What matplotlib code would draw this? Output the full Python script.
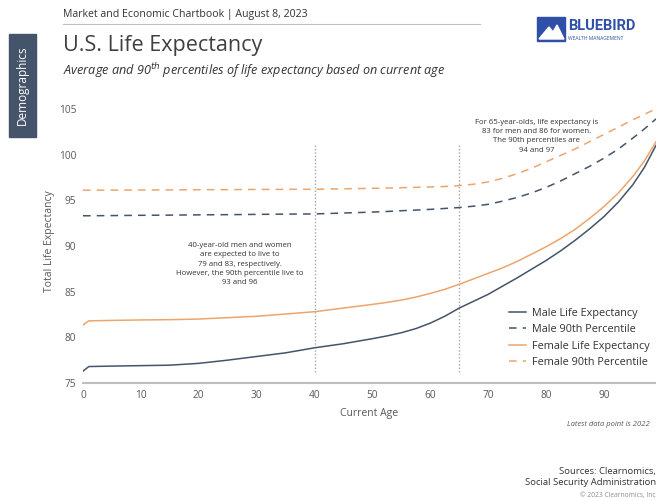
import matplotlib

matplotlib.use("Agg")
import matplotlib.pyplot as plt
from matplotlib.patches import Rectangle, Polygon

plt.rcParams["font.family"] = ["Open Sans", "DejaVu Sans"]

# values
ages = [0, 1, 5, 10, 15, 20, 25, 30, 35, 40, 45, 50, 52.5, 55, 57.5, 60, 62.5, 65, 67.5,
        70, 72.5, 75, 77.5, 80, 82.5, 85, 87.5, 90, 92.5, 95, 97, 99]
male_le = [76.3, 76.8, 76.85, 76.9, 76.95, 77.15, 77.5, 77.9, 78.3, 78.85, 79.3, 79.85,
           80.15, 80.5, 80.95, 81.55, 82.3, 83.2, 83.95, 84.7, 85.6, 86.5, 87.45, 88.4,
           89.45, 90.6, 91.85, 93.2, 94.8, 96.7, 98.6, 101.0]
female_le = [81.35, 81.8, 81.85, 81.9, 81.93, 82.0, 82.15, 82.3, 82.55, 82.8, 83.2, 83.6,
             83.82, 84.07, 84.4, 84.8, 85.25, 85.8, 86.4, 87.0, 87.6, 88.3, 89.1, 89.9,
             90.8, 91.8, 93.0, 94.3, 95.8, 97.6, 99.3, 101.4]
male_p90 = [93.3, 93.3, 93.32, 93.35, 93.37, 93.4, 93.42, 93.45, 93.48, 93.5, 93.6, 93.7,
            93.77, 93.85, 93.92, 94.0, 94.1, 94.2, 94.35, 94.55, 94.9, 95.3, 95.8, 96.4,
            97.1, 97.9, 98.7, 99.6, 100.6, 101.8, 102.8, 103.9]
female_p90 = [96.1, 96.1, 96.11, 96.12, 96.13, 96.15, 96.16, 96.18, 96.19, 96.2, 96.25, 96.3,
              96.33, 96.37, 96.41, 96.45, 96.5, 96.6, 96.75, 97.0, 97.4, 97.9, 98.5, 99.2,
              99.9, 100.6, 101.4, 102.2, 103.0, 103.8, 104.4, 105.0]
y_ticks = [75, 80, 85, 90, 95, 100, 105]
x_ticks = [0, 10, 20, 30, 40, 50, 60, 70, 80, 90]
marker_ages = [40, 65]

MALE = "#44546a"
FEMALE = "#eda56b"
GRAY = "#595959"

fig = plt.figure(figsize=(6.56, 5.01), dpi=100)
ax = fig.add_axes([83 / 656, (501 - 383) / 501, 1 - 83 / 656, (383 - 99.7) / 501])

ax.plot(ages, male_le, color=MALE, lw=1.1, label="Male Life Expectancy")
ax.plot(ages, male_p90, color=MALE, lw=1.1, ls=(0, (5, 4)), label="Male 90th Percentile")
ax.plot(ages, female_le, color=FEMALE, lw=1.1, label="Female Life Expectancy")
ax.plot(ages, female_p90, color=FEMALE, lw=1.1, ls=(0, (5, 4)), label="Female 90th Percentile")

for a in marker_ages:
    ax.plot([a, a], [76.2, 101.3], color="#a6a6a6", lw=1.0, ls=(0, (1, 1.5)), zorder=0)

ax.set_xlim(0, 99)
ax.set_ylim(75, 106)
ax.set_xticks(x_ticks)
ax.set_yticks(y_ticks)
ax.tick_params(length=0, labelsize=7.3, colors=GRAY, pad=5)
for s in ["top", "right", "left"]:
    ax.spines[s].set_visible(False)
ax.spines["bottom"].set_color("#bfbfbf")
ax.spines["bottom"].set_linewidth(1.5)
ax.set_xlabel("Current Age", fontsize=7.5, color=GRAY, labelpad=5)
ax.set_ylabel("Total Life Expectancy", fontsize=7.5, color=GRAY, labelpad=3)

ax.text(27.1, 88.0, "40-year-old men and women\nare expected to live to\n79 and 83, respectively.\n"
        "However, the 90th percentile live to\n93 and 96",
        fontsize=5.6, color="#333333", ha="center", va="center", linespacing=1.45)
ax.text(78.4, 102.0, "For 65-year-olds, life expectancy is\n83 for men and 86 for women.\n"
        "The 90th percentiles are\n94 and 97",
        fontsize=5.6, color="#333333", ha="center", va="center", linespacing=1.45)

leg = ax.legend(loc="lower right", bbox_to_anchor=(1.0, 0.03), frameon=False, fontsize=7.8,
                handlelength=1.6, handletextpad=0.5, labelspacing=0.5, borderaxespad=0.2)
for t in leg.get_texts():
    t.set_color("#333333")

# header
fig.text(63 / 656, 1 - 14 / 501, "Market and Economic Chartbook | August 8, 2023",
         fontsize=7.6, color="#333333", va="center")
fig.add_artist(plt.Line2D([63 / 656, 480 / 656], [1 - 24 / 501, 1 - 24 / 501],
                          color="#bfbfbf", lw=0.8))
fig.text(63 / 656, 1 - 46 / 501, "U.S. Life Expectancy", fontsize=15.5, color="#404040",
         va="center")
fig.text(63 / 656, 1 - 71 / 501,
         r"Average and 90$^{th}$ percentiles of life expectancy based on current age",
         fontsize=9.1, color="#333333", va="center", style="italic")

# side tab
fig.add_artist(Rectangle((9 / 656, 1 - 137 / 501), 27 / 656, 103 / 501,
                         transform=fig.transFigure, color="#44546a"))
fig.text(22.5 / 656, 1 - 85.5 / 501, "Demographics", rotation=90, color="white",
         fontsize=8.5, ha="center", va="center")

# logo
fig.add_artist(Rectangle((537 / 656, 1 - 41 / 501), 28 / 656, 24 / 501,
                         transform=fig.transFigure, color="#2f4fa8"))
fig.add_artist(Polygon([(539 / 656, 1 - 39 / 501), (549 / 656, 1 - 27 / 501),
                        (553 / 656, 1 - 32 / 501), (557 / 656, 1 - 25 / 501),
                        (564 / 656, 1 - 39 / 501)],
                       transform=fig.transFigure, color="white"))
fig.text(568 / 656, 1 - 26 / 501, "BLUEBIRD", fontsize=10.5, fontweight="bold",
         color="#2f4fa8", va="center", family=["Roboto", "DejaVu Sans"])
fig.text(568.5 / 656, 1 - 38 / 501, "WEALTH MANAGEMENT", fontsize=3.6, color="#2f4fa8",
         va="center")

# footer
fig.text(650 / 656, 1 - 424 / 501, "Latest data point is 2022", fontsize=5.5,
         style="italic", color=GRAY, ha="right", va="center")
fig.text(656 / 656, 1 - 477 / 501, "Sources: Clearnomics,\nSocial Security Administration",
         fontsize=6.8, color="#333333", ha="right", va="center", linespacing=1.3)
fig.text(656 / 656, 1 - 496 / 501, "\u00a9 2023 Clearnomics, Inc", fontsize=4.8,
         color="#8c8c8c", ha="right", va="center")

fig.savefig("out.png", dpi=100)
